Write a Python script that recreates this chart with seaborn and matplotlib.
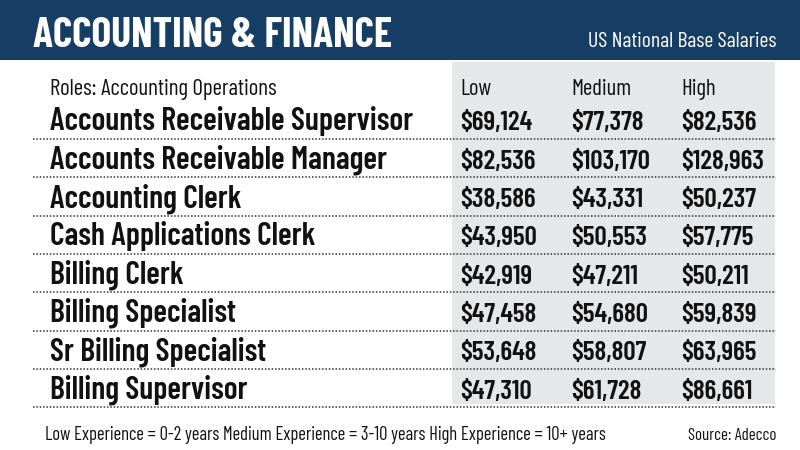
import matplotlib
matplotlib.use("Agg")
import matplotlib.pyplot as plt
from matplotlib import font_manager
from matplotlib.patches import Rectangle
import seaborn as sns

# ---- data ----
title = "ACCOUNTING & FINANCE"
subtitle = "US National Base Salaries"
group_label = "Roles: Accounting Operations"
levels = ["Low", "Medium", "High"]
roles = [
    "Accounts Receivable Supervisor",
    "Accounts Receivable Manager",
    "Accounting Clerk",
    "Cash Applications Clerk",
    "Billing Clerk",
    "Billing Specialist",
    "Sr Billing Specialist",
    "Billing Supervisor",
]
low = [69124, 82536, 38586, 43950, 42919, 47458, 53648, 47310]
medium = [77378, 103170, 43331, 50553, 47211, 54680, 58807, 61728]
high = [82536, 128963, 50237, 57775, 50211, 59839, 63965, 86661]
footnote = "Low Experience = 0-2 years Medium Experience = 3-10 years High Experience = 10+ years"
source = "Source: Adecco"

# ---- style ----
sns.set_theme(style="white")
available = {f.name for f in font_manager.fontManager.ttflist}


def pick(cands):
    for c in cands:
        if c in available:
            return c
    return "DejaVu Sans"


body_font = pick(["Barlow Condensed", "Roboto Condensed", "Sofia Sans Condensed",
                  "Archivo Narrow", "Asap Condensed", "Liberation Sans Narrow"])
title_font = body_font
plt.rcParams["font.family"] = [body_font, "DejaVu Sans"]

NAVY = "#163d63"
GREY = "#e6e7e9"
INK = "#111111"

fig = plt.figure(figsize=(8, 4.5), dpi=100)
ax = fig.add_axes([0, 0, 1, 1])
ax.set_xlim(0, 800)
ax.set_ylim(450, 0)
ax.axis("off")
renderer = fig.canvas.get_renderer()


def fit(texts, target):
    w = max(t.get_window_extent(renderer=renderer).width for t in texts)
    for t in texts:
        t.set_fontsize(t.get_fontsize() * target / w)


# header band
ax.add_patch(Rectangle((0, 0), 800, 60, color=NAVY, lw=0, zorder=1))
t_title = ax.text(33, 47, title, color="white", fontsize=30, fontweight="bold",
                  family=[title_font, "DejaVu Sans"], va="baseline", ha="left", zorder=3)
fit([t_title], 359)
t_sub = ax.text(776, 47, subtitle, color="white", fontsize=14, va="baseline",
                ha="right", zorder=3)
fit([t_sub], 188)

# grey value panel
ax.add_patch(Rectangle((452, 62), 323, 342, color=GREY, lw=0, zorder=1))

col_x = [460, 571, 681]
row_gap = 38.3
first_line = 139

# header row
t_group = ax.text(50, 95, group_label, color=INK, fontsize=16, va="baseline", zorder=3)
fit([t_group], 228)
for x, lv in zip(col_x, levels):
    ax.text(x, 95, lv, color=INK, fontsize=t_group.get_fontsize(), va="baseline", zorder=3)

# rows
label_texts = []
value_texts = []
for i, role in enumerate(roles):
    line_y = first_line + i * row_gap
    base = line_y - 8.5
    label_texts.append(ax.text(50, base, role, color=INK, fontsize=20,
                               fontweight=600, va="baseline", zorder=3))
    for x, v in zip(col_x, (low[i], medium[i], high[i])):
        value_texts.append(ax.text(x, base, f"${v:,}", color=INK, fontsize=20,
                                   fontweight=600, va="baseline", zorder=3))
    ax.plot([33, 776], [line_y, line_y], color="#333333", lw=1.1,
            linestyle=(0, (1, 1.2)), zorder=2)
fit(label_texts, 360)
fit(value_texts, 83)

# footer
t_foot = ax.text(45, 440, footnote, color=INK, fontsize=10, va="baseline", zorder=3)
fit([t_foot], 563)
t_src = ax.text(776, 440, source, color=INK, fontsize=10, va="baseline", ha="right", zorder=3)
fit([t_src], 89)

fig.savefig("out.png", dpi=100)
